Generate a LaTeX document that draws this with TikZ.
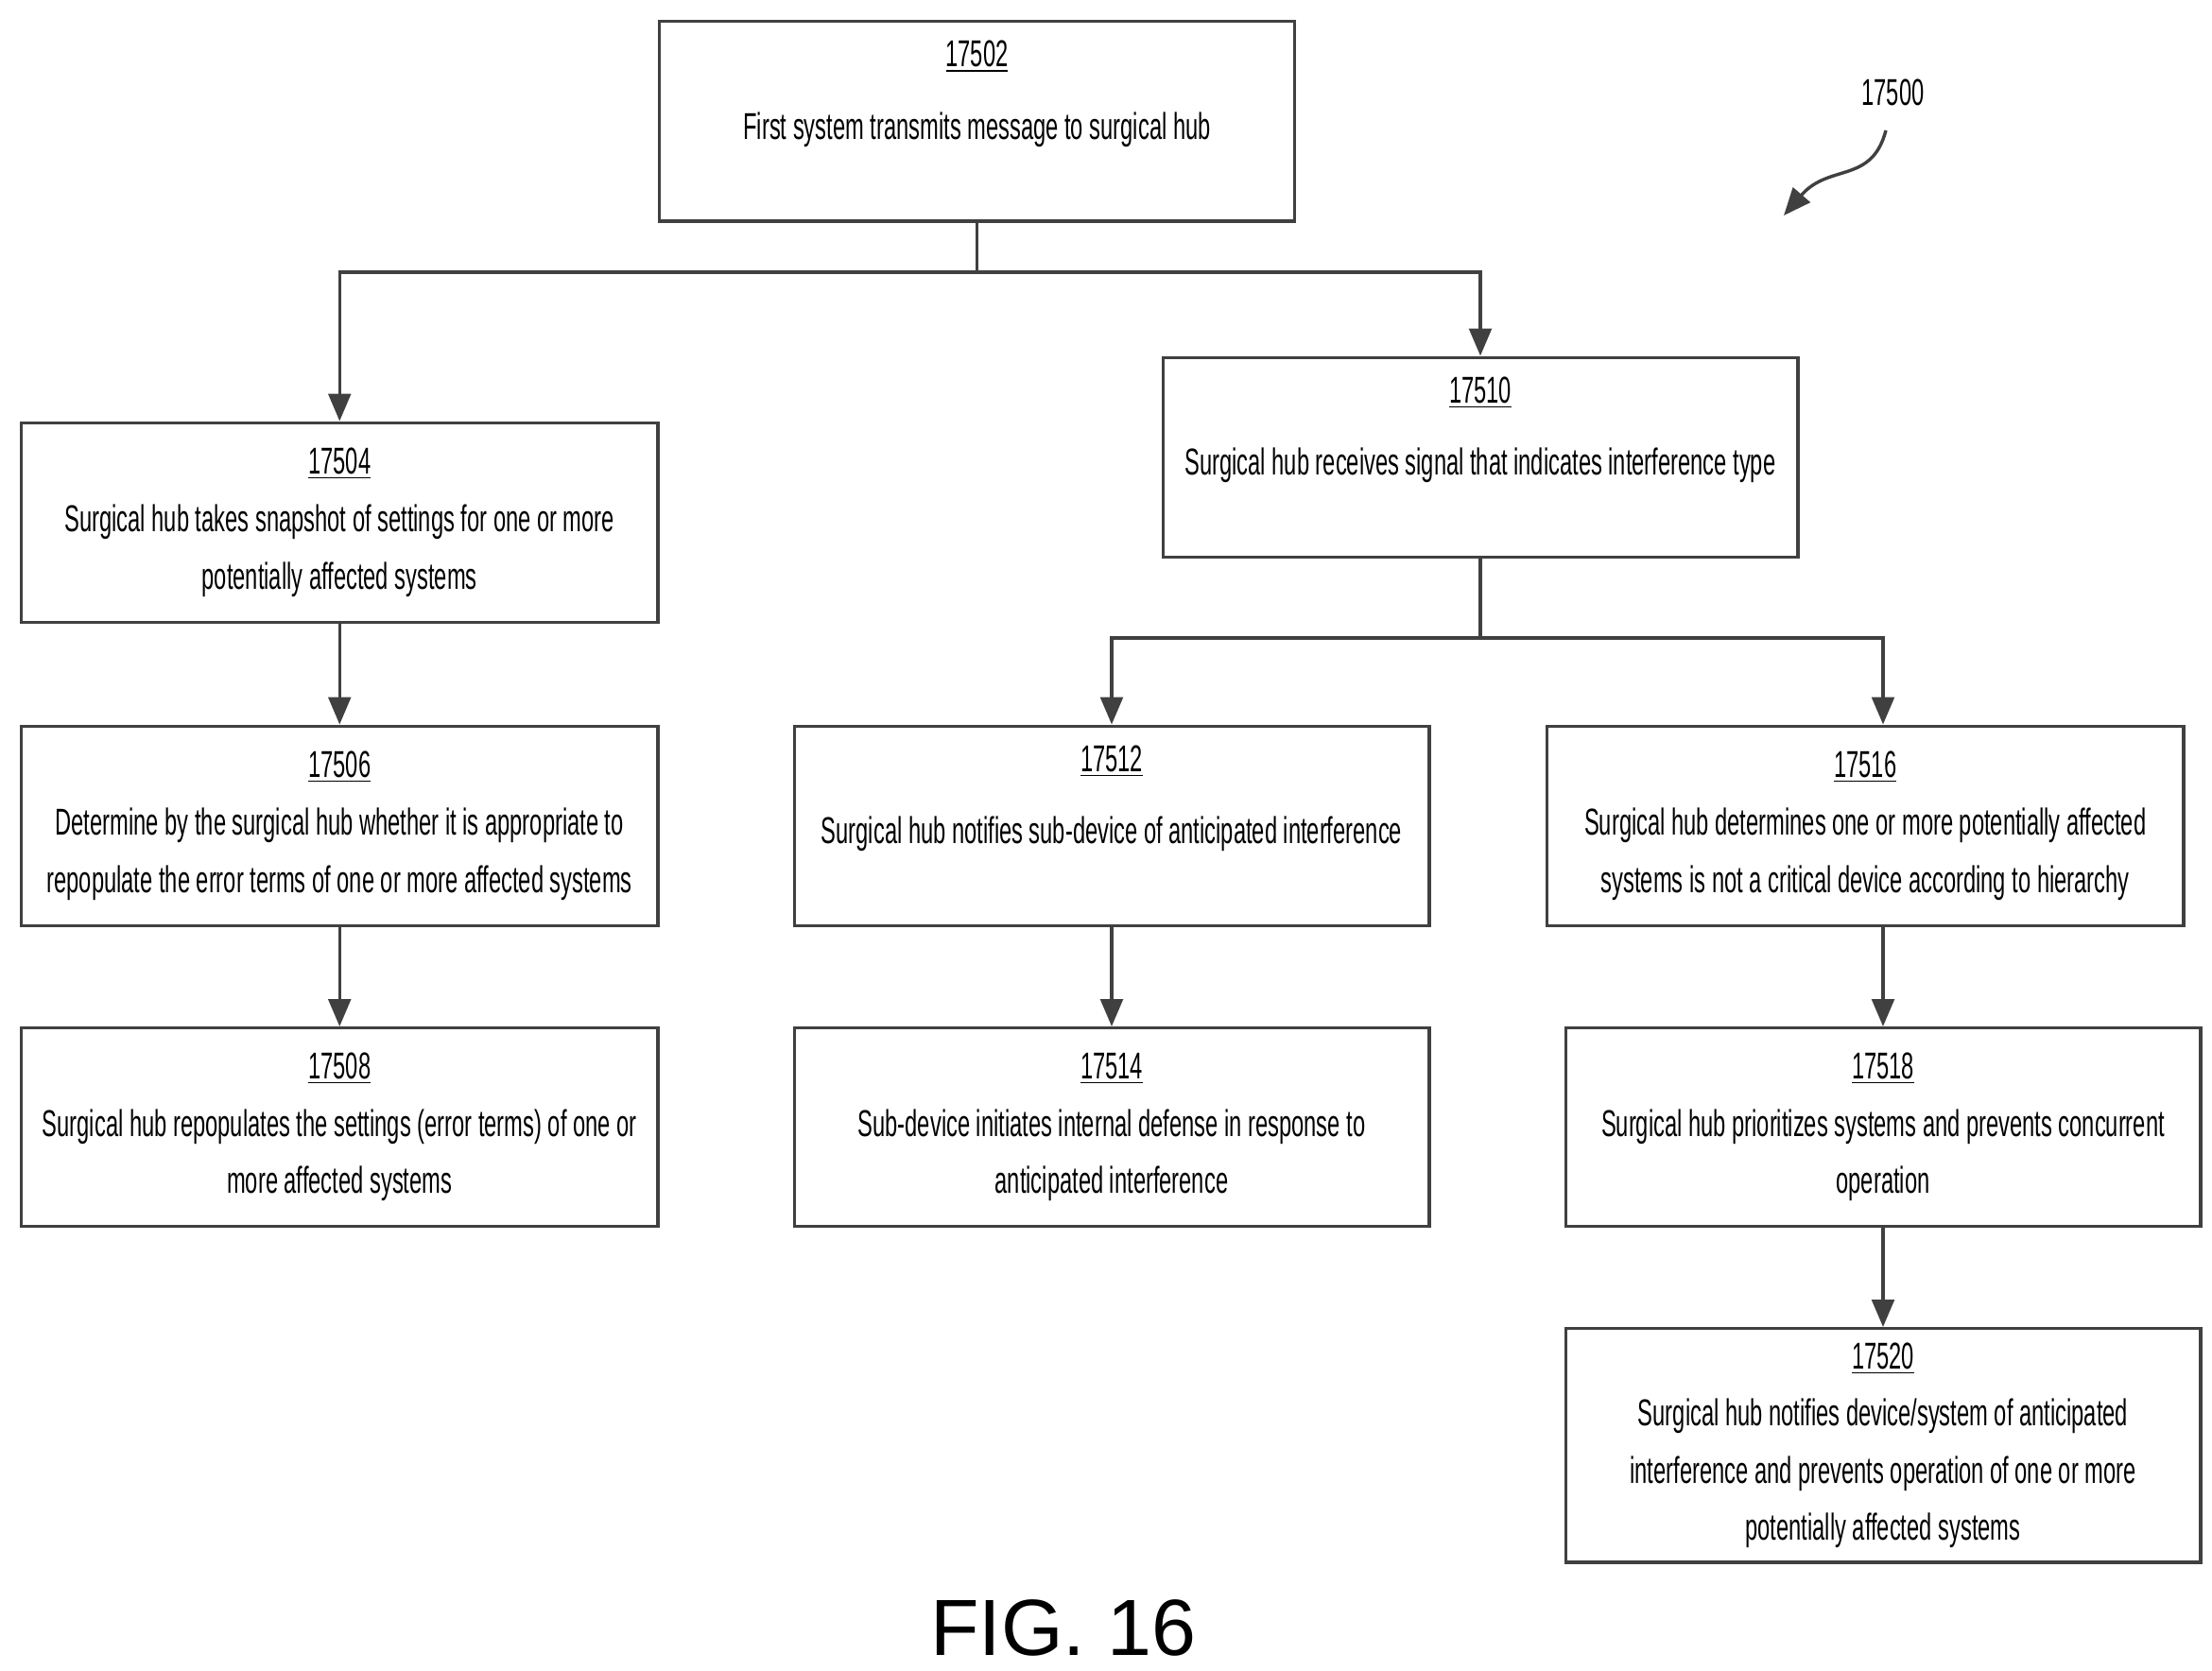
\documentclass[tikz,border=0pt]{standalone}
\usepackage{fontspec}
\setmainfont{Liberation Sans}[FakeStretch=0.6]
\newfontfamily\figfont{Liberation Sans}
\usetikzlibrary{arrows.meta}
\begin{document}
\begin{tikzpicture}[x=0.02cm,y=-0.02cm,
  box/.style={draw=black!75,line width=1.3pt,inner sep=0pt,align=center,font=\fontsize{15}{23}\selectfont},
  con/.style={draw=black!75,line width=1.3pt},
  arr/.style={con,-{Triangle[width=9pt,length=11pt]}}]
\useasboundingbox (0,0) rectangle (1560,1178);
\newcommand{\bx}[6]{\node[box,minimum width=#4*0.02cm-#2*0.02cm-1.3pt,minimum height=#5*0.02cm-#3*0.02cm-1.3pt,anchor=center] (#1) at ({(#2+#4)/2},{(#3+#5)/2}) {#6};}
\bx{a}{464}{14}{914}{157}{\underline{17502}\\[6pt]First system transmits message to surgical hub\\[2pt]}
\bx{b}{14}{297}{465}{440}{\underline{17504}\\Surgical hub takes snapshot of settings for one or more\\potentially affected systems}
\bx{c}{14}{511}{465}{654}{\underline{17506}\\Determine by the surgical hub whether it is appropriate to\\repopulate the error terms of one or more affected systems}
\bx{d}{14}{724}{465}{866}{\underline{17508}\\Surgical hub repopulates the settings (error terms) of one or\\more affected systems}
\bx{e}{819}{251}{1269}{394}{\underline{17510}\\[6pt]Surgical hub receives signal that indicates interference type\\[2pt]}
\bx{f}{559}{511}{1009}{654}{\underline{17512}\\[6pt]Surgical hub notifies sub-device of anticipated interference\\[2pt]}
\bx{g}{559}{724}{1009}{866}{\underline{17514}\\Sub-device initiates internal defense in response to\\anticipated interference}
\bx{h}{1090}{511}{1541}{654}{\underline{17516}\\Surgical hub determines one or more potentially affected\\systems is not a critical device according to hierarchy}
\bx{i}{1103}{724}{1553}{866}{\underline{17518}\\Surgical hub prioritizes systems and prevents concurrent\\operation}
\bx{j}{1103}{936}{1553}{1103}{\underline{17520}\\Surgical hub notifies device/system of anticipated\\interference and prevents operation of one or more\\potentially affected systems}
\coordinate (s1) at (689,192);
\coordinate (s2) at (1044,450);
\coordinate (p1) at (1328,654);
\coordinate (p2) at (1328,724);
\coordinate (p3) at (1328,450);
\coordinate (p4) at (1328,511);
\draw[con] (a.south) -- (s1);
\draw[arr] (s1) -| (b.north);
\draw[arr] (s1) -| (e.north);
\draw[con] (e.south) -- (s2);
\draw[arr] (s2) -| (f.north);
\draw[arr] (s2) -- (p3) -- (p4);
\draw[arr] (b) -- (c);
\draw[arr] (c) -- (d);
\draw[arr] (f) -- (g);
\draw[arr] (p1) -- (p2);
\draw[arr] (i) -- (j);
\node[font=\fontsize{15}{18}\selectfont] (lbl) at (1335,65) {17500};
\coordinate (t) at (1258,152);
\draw[arr] (1330,92) .. controls (1320,130) and (1290,115) .. (t);
\node[font=\figfont\fontsize{32}{36}\selectfont] (fig) at (750,1148) {FIG. 16};
\end{tikzpicture}
\end{document}
